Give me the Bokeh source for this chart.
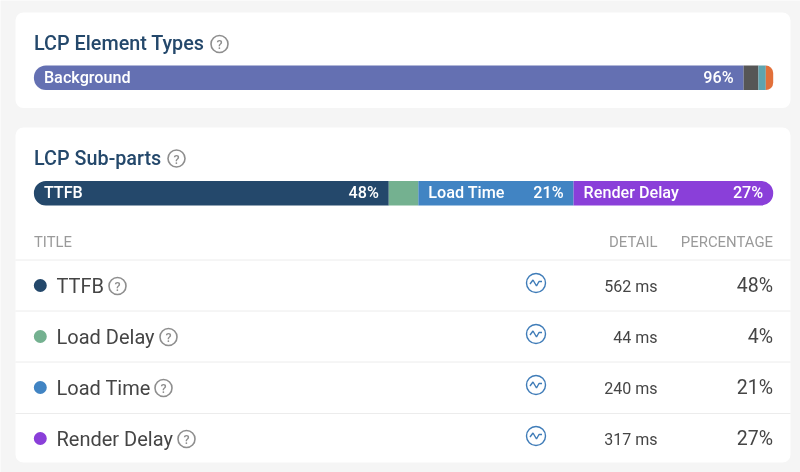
from bokeh.plotting import figure
from bokeh.models import Range1d
from bokeh.core.properties import value
from bokeh.embed import file_html
from bokeh.resources import INLINE
import numpy as np

# ---- data ----
element_labels = ["Background", "", "", ""]
element_values = [96, 2, 1, 1]
element_pct_labels = ["96%", "", "", ""]
subpart_names = ["TTFB", "Load Delay", "Load Time", "Render Delay"]
subpart_values = [48, 4, 21, 27]
subpart_bar_labels = ["TTFB", "", "Load Time", "Render Delay"]
subpart_pct_labels = ["48%", "", "21%", "27%"]
subpart_detail = ["562 ms", "44 ms", "240 ms", "317 ms"]
subpart_pct = ["48%", "4%", "21%", "27%"]
headers = ["TITLE", "DETAIL", "PERCENTAGE"]

element_colors = ["#6470b2", "#565656", "#5fa4af", "#e2703a"]
subpart_colors = ["#24486b", "#74b190", "#4184c3", "#8a3fd9"]

W, H = 800, 472
BAR_L, BAR_R = 33.4, 772.7
scale = (BAR_R - BAR_L) / 100

p = figure(width=W, height=H, output_backend="svg", toolbar_location=None,
           x_range=Range1d(0, W), y_range=Range1d(H, 0), min_border=0,
           background_fill_color="#f5f5f5", border_fill_color="#f5f5f5",
           outline_line_color=None)
p.styles = {"position": "fixed", "left": "0px", "top": "0px"}
p.axis.visible = False
p.grid.visible = False
p.extra_x_ranges["pct"] = Range1d(-BAR_L / scale, (W - BAR_L) / scale)

FONT = value("Roboto")
MED = value("Roboto Medium")
TITLE = "#24486b"
TXT = "#454545"
GREY = "#8e8e8e"

# cards
p.quad(left=[15, 15], right=[790, 790], top=[12, 127], bottom=[107.5, 462],
       fill_color="white", line_color=None, border_radius=8)

# stacked bars
def stacked(vals, colors, yc, labels, pcts):
    vals = np.array(vals, dtype=float)
    right = np.cumsum(vals)
    left = right - vals
    n = len(vals)
    for i in range(n):
        radius = 12 if i in (0, n - 1) else 0
        br = (radius, 0, 0, radius) if i == 0 else ((0, radius, radius, 0) if i == n - 1 else 0)
        p.hbar(y=[yc], left=[left[i]], right=[right[i]], height=24.5, x_range_name="pct",
               fill_color=colors[i], line_color=None, border_radius=br)
        if labels[i]:
            p.text(x=[left[i]], y=[yc - 0.3], text=[labels[i]], x_range_name="pct", x_offset=10,
                   text_color="white", text_font=MED, text_font_size="16.2px",
                   text_baseline="middle", text_align="left")
        if pcts[i]:
            p.text(x=[right[i]], y=[yc - 0.3], text=[pcts[i]], x_range_name="pct", x_offset=-10,
                   text_color="white", text_font=MED, text_font_size="16.2px",
                   text_baseline="middle", text_align="right")

stacked(element_values, element_colors, 77.3, element_labels, element_pct_labels)
stacked(subpart_values, subpart_colors, 192.7, subpart_bar_labels, subpart_pct_labels)

# card titles
p.text(x=[33.5, 33.5], y=[43, 158], text=["LCP Element Types", "LCP Sub-parts"],
       text_color=TITLE, text_font=MED, text_font_size="19.8px",
       text_baseline="middle", text_align="left")

# help icon
def help_icon(x, y, r=8.5):
    p.scatter(x=[x], y=[y], marker="circle", size=2 * r, fill_color=None,
              line_color=GREY, line_width=1.6)
    p.text(x=[x], y=[y + 0.5], text=["?"], text_color=GREY, text_font=MED,
           text_font_size="12.5px", text_align="center", text_baseline="middle")

help_icon(219, 43.5)
help_icon(176, 158)

# table headers
p.text(x=[33.5], y=[241.5], text=[headers[0]], text_color="#9a9a9a", text_font=FONT,
       text_font_size="14.8px", text_baseline="middle", text_align="left")
p.text(x=[657, 772.5], y=[241.5, 241.5], text=headers[1:], text_color="#9a9a9a", text_font=FONT,
       text_font_size="14.9px", text_baseline="middle", text_align="right")

# row dividers
p.segment(x0=[15] * 4, x1=[790] * 4, y0=[259.5, 310.5, 361.5, 413], y1=[259.5, 310.5, 361.5, 413],
          line_color="#ececec", line_width=1)

# rows
row_y = [285, 336, 387, 438]
icon_y = [282.5, 333.5, 384.5, 435.5]
help_x = [117, 168, 163, 186]
p.scatter(x=[39.8] * 4, y=row_y, marker="circle", size=13,
          fill_color=subpart_colors, line_color=None)
p.text(x=[56] * 4, y=row_y, text=subpart_names, text_color=TXT, text_font=FONT,
       text_font_size="20px", text_baseline="middle", text_align="left")
for hx, y in zip(help_x, row_y):
    help_icon(hx, y + 0.5)
p.text(x=[657] * 4, y=[y + 0.5 for y in row_y], text=subpart_detail, text_color=TXT, text_font=FONT,
       text_font_size="16px", text_baseline="middle", text_align="right")
p.text(x=[772.5] * 4, y=[y - 0.5 for y in row_y], text=subpart_pct, text_color=TXT, text_font=FONT,
       text_font_size="19.5px", text_baseline="middle", text_align="right")

# trend icons
ICON = "#3f7cb8"
wave_dx = [-6, -3, 0.5, 3, 6]
wave_dy = [1, -3, 3, -1.5, -1.5]
for y in icon_y:
    p.scatter(x=[535.5], y=[y], marker="circle", size=19, fill_color=None,
              line_color=ICON, line_width=1.4)
    p.line(x=[535.5 + d for d in wave_dx], y=[y + d for d in wave_dy], line_color=ICON, line_width=1.4)

open("out.html", "w").write(file_html(p, INLINE))
